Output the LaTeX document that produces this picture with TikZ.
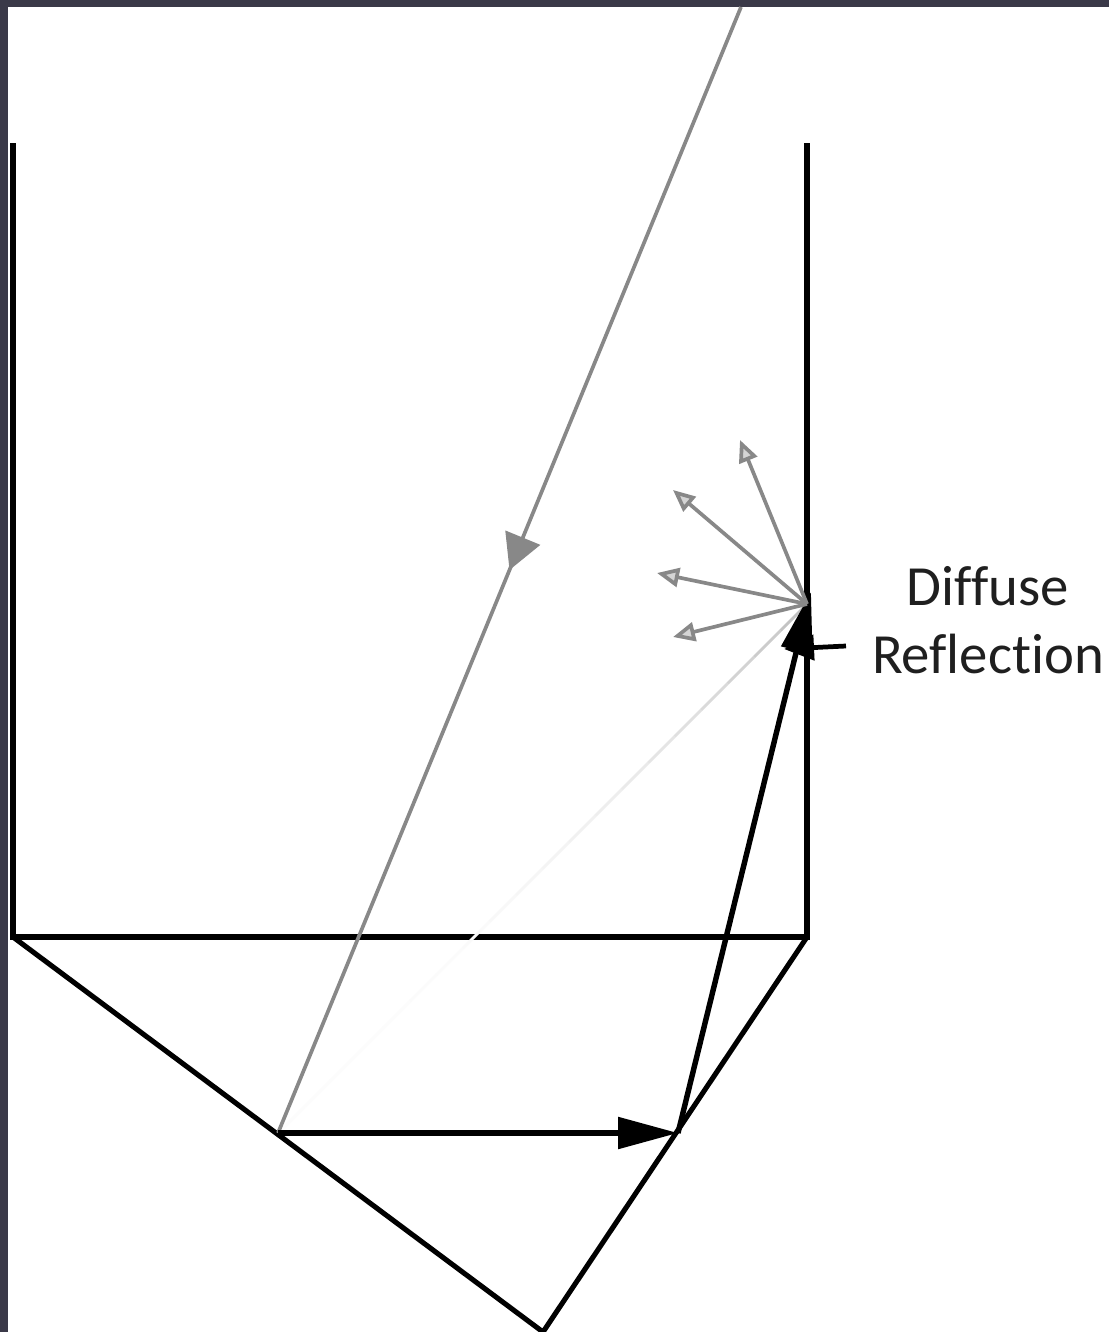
\documentclass[tikz,border=0pt]{standalone}
\usepackage{fontspec}
\newfontfamily\labelfont[Ligatures=NoCommon]{Carlito}
\usetikzlibrary{arrows.meta, calc}
\definecolor{frame}{HTML}{3A3948}
\definecolor{raygray}{HTML}{888888}

\begin{document}
\begin{tikzpicture}[x=0.02cm, y=-0.02cm,
    wall/.style={line width=2.9pt, line join=miter},
    ray/.style={raygray, line width=2.1pt},
    beam/.style={line width=3.1pt, -{Triangle[length=1.2cm, width=0.62cm]}},
    scatter/.style={raygray, line width=2.1pt,
        -{Triangle[open, length=0.44cm, width=0.38cm, fill=raygray!35]}},
    lbl/.style={font=\labelfont\fontsize{32.3}{38.7}\selectfont,
        text=black!88, anchor=base, inner sep=0pt},
]
    % Frame
    \fill[frame] (0,0) rectangle (1109,1332);
    \fill[white] (8,7) rectangle (1109,1332);
    \useasboundingbox (0,0) rectangle (1109,1332);

    % Points
    \coordinate (wallTL) at (13,143);
    \coordinate (wallBL) at (13,937);
    \coordinate (wallBR) at (807,937);
    \coordinate (wallTR) at (807,143);
    \coordinate (apex) at (543,1332);
    \coordinate (src) at (741,7);
    \coordinate (hit1) at (278,1133);
    \coordinate (hit2) at (678,1133);
    \coordinate (spot) at (807,604);

    % Cavity
    \draw[wall] (wallTL) -- (wallBL) -- (wallBR) -- (wallTR);
    \draw[wall] (wallBL) -- (apex) -- (wallBR);

    % Faded ghost path
    \foreach \k in {0,...,19} {
        \pgfmathsetmacro{\shade}{2+45*(\k/19)^3}
        \draw[gray!\shade, line width=1.6pt]
            ($(hit1)!\k/20!(spot)$) -- ($(hit1)!\k/20+0.05!(spot)$);
    }

    % Incoming ray
    \draw[ray, -{Triangle[length=0.7cm, width=0.74cm]}]
        (src) -- ($(src)!0.5!(hit1)$);
    \draw[ray] ($(src)!0.48!(hit1)$) -- (hit1);

    % Reflected beams
    \draw[beam] (hit1) -- (hit2);
    \draw[beam] (hit2) -- ($(spot)+(4,-12)$);

    % Diffuse scatter
    \foreach \tx/\ty in {740/440, 673/490, 657/573, 673/637} {
        \draw[scatter] (spot) -- (\tx,\ty);
    }

    % Label
    \node[lbl] (diffuse) at (988,605) {Diffuse};
    \node[lbl] (reflect) at (988,673) {Reflection};
    \coordinate (tag) at (846,646);
    \draw[line width=2.7pt, -{Triangle[length=0.6cm, width=0.5cm]}]
        (tag) -- (784,649);
\end{tikzpicture}
\end{document}
